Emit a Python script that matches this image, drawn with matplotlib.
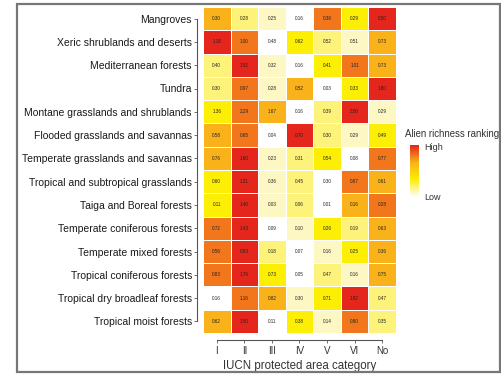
import numpy as np
import matplotlib
matplotlib.use("Agg")
import matplotlib.pyplot as plt
from matplotlib.colors import ListedColormap, LinearSegmentedColormap
from matplotlib.patches import Rectangle

plt.rcParams['font.family'] = ['Liberation Sans', 'DejaVu Sans']

biomes = ["Mangroves", "Xeric shrublands and deserts", "Mediterranean forests",
          "Tundra", "Montane grasslands and shrublands",
          "Flooded grasslands and savannas", "Temperate grasslands and savannas",
          "Tropical and subtropical grasslands", "Taiga and Boreal forests",
          "Temperate coniferous forests", "Temperate mixed forests",
          "Tropical coniferous forests", "Tropical dry broadleaf forests",
          "Tropical moist forests"]
categories = ["I", "II", "III", "IV", "V", "VI", "No"]

# alien richness per biome (rows) and IUCN category (columns)
richness = [
    [0.30, 0.28, 0.25, 0.16, 0.36, 0.29, 0.50],
    [1.18, 1.00, 0.48, 0.62, 0.52, 0.51, 0.73],
    [0.40, 1.52, 0.32, 0.16, 0.41, 1.01, 0.73],
    [0.30, 0.97, 0.28, 0.52, 0.03, 0.33, 1.80],
    [1.36, 2.29, 1.67, 0.16, 0.39, 2.80, 0.29],
    [0.58, 0.65, 0.04, 0.70, 0.30, 0.29, 0.49],
    [0.76, 1.60, 0.23, 0.31, 0.54, 0.08, 0.77],
    [0.60, 1.21, 0.36, 0.45, 0.30, 0.87, 0.61],
    [0.11, 1.40, 0.03, 0.06, 0.01, 0.16, 0.28],
    [0.72, 1.43, 0.09, 0.10, 0.26, 0.19, 0.63],
    [0.56, 0.93, 0.18, 0.07, 0.16, 0.25, 0.36],
    [0.83, 1.76, 0.73, 0.05, 0.47, 0.16, 0.75],
    [0.16, 1.16, 0.82, 0.30, 0.71, 1.82, 0.47],
    [0.62, 1.50, 0.11, 0.38, 0.14, 0.80, 0.35],
]

vals = np.array(richness)
# rank within each biome: 0 = lowest, 6 = highest
rank = vals.argsort(axis=1).argsort(axis=1)

steps = ["#ffffff", "#fdf7c4", "#fdf27a", "#fdee05", "#f9b21a", "#f2761c", "#e4261c"]
cmap = ListedColormap(steps)

W, H = 502, 376
fig = plt.figure(figsize=(W / 100, H / 100), dpi=100)

# outer frame
fig.patches.append(Rectangle((17 / W, 4 / H), 483 / W, 368 / H, transform=fig.transFigure,
                             fill=False, edgecolor="#777777", linewidth=1.6))

ax = fig.add_axes([203 / W, (H - 333) / H, 193 / W, 326 / H])
nr, nc = vals.shape

# spines first: moving them resets the tick labels
for s in ["top", "right"]:
    ax.spines[s].set_visible(False)
ax.spines["left"].set_position(("outward", 4))
ax.spines["bottom"].set_position(("outward", 5))
for s in ["left", "bottom"]:
    ax.spines[s].set_linewidth(0.8)
    ax.spines[s].set_color("#555555")

ax.pcolormesh(np.arange(nc + 1) - 0.5, np.arange(nr + 1) - 0.5, rank, cmap=cmap,
              vmin=-0.5, vmax=6.5, edgecolors="white", linewidth=0.6)
for i in range(nr):
    for j in range(nc):
        ax.text(j, i, f"{vals[i, j]:.2f}", ha="center", va="center", fontsize=3.3,
                color="#222222")

ax.set_xlim(-0.5, nc - 0.5)
ax.set_ylim(nr - 0.5, -0.5)
ax.set_xticks(range(nc))
ax.set_xticklabels(categories, fontsize=7, color="#333333")
ax.set_yticks(range(nr))
ax.set_yticklabels(biomes, fontsize=7.5, color="#1a1a1a")
ax.tick_params(axis="both", length=2, width=0.6, color="#555555", pad=2)
ax.spines["left"].set_bounds(0, nr - 1)
ax.spines["bottom"].set_bounds(0, nc - 1)
ax.set_xlabel("IUCN protected area category", fontsize=8.3, color="#333333", labelpad=3)

# legend for the ranking
fig.text(405 / W, 1 - 134 / H, "Alien richness ranking", fontsize=6.9, color="#333333",
         ha="left", va="center")
cax = fig.add_axes([410 / W, 1 - 197 / H, 9 / W, 52 / H])
grad = LinearSegmentedColormap.from_list("rank", ["#ffffff", "#fdee05", "#f9b21a", "#e4261c"])
cax.imshow(np.linspace(0, 1, 100)[:, None], aspect="auto", cmap=grad, origin="lower")
cax.axis("off")
fig.text(424 / W, 1 - 148 / H, "High", fontsize=6.5, color="#333333", va="center")
fig.text(424 / W, 1 - 198 / H, "Low", fontsize=6.5, color="#333333", va="center")

fig.savefig("out.png", dpi=100)
